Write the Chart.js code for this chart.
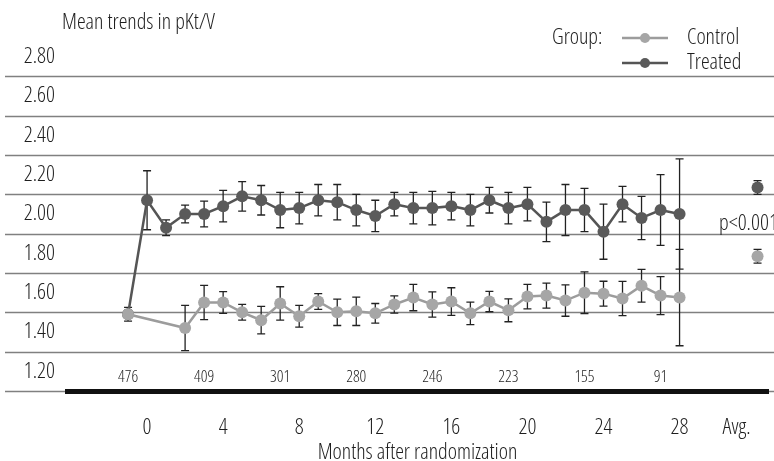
<!DOCTYPE html>
<html>
<head>
<meta charset="utf-8">
<script src="https://cdn.jsdelivr.net/npm/chart.js@4.4.1/dist/chart.umd.min.js"></script>
<style>
  html, body { margin: 0; padding: 0; background: #fff; }
</style>
</head>
<body>
<canvas id="trends" width="774" height="461"></canvas>
<script>
// months after randomization (-1 = baseline)
var months = [-1, 0, 1, 2, 3, 4, 5, 6, 7, 8, 9, 10, 11, 12, 13, 14, 15, 16, 17, 18, 19, 20, 21, 22, 23, 24, 25, 26, 27, 28];

var controlMeans = [1.49, null, null, 1.42, 1.55, 1.55, 1.50, 1.46, 1.545, 1.48, 1.555, 1.50, 1.505, 1.495, 1.54,
  1.575, 1.54, 1.555, 1.495, 1.555, 1.51, 1.58, 1.585, 1.56, 1.60, 1.595, 1.57, 1.635, 1.585, 1.575];
var controlErr = [0.035, null, null, 0.115, 0.087, 0.055, 0.04, 0.07, 0.085, 0.055, 0.04, 0.067, 0.072, 0.05, 0.044,
  0.067, 0.064, 0.07, 0.057, 0.052, 0.058, 0.062, 0.064, 0.08, 0.106, 0.063, 0.087, 0.083, 0.097, 0.245];

var treatedMeans = [1.49, 2.07, 1.93, 2.00, 2.00, 2.04, 2.09, 2.07, 2.02, 2.03, 2.07, 2.06, 2.02, 1.99, 2.05,
  2.03, 2.03, 2.04, 2.02, 2.07, 2.03, 2.05, 1.96, 2.02, 2.02, 1.91, 2.05, 1.98, 2.02, 2.00];
var treatedErr = [0.02, 0.15, 0.04, 0.045, 0.065, 0.08, 0.075, 0.075, 0.09, 0.08, 0.08, 0.09, 0.08, 0.08, 0.06,
  0.08, 0.085, 0.07, 0.08, 0.065, 0.08, 0.085, 0.10, 0.13, 0.11, 0.14, 0.09, 0.11, 0.18, 0.28];

// averages shown at the right
var avgLabel = "Avg.";
var avgMonth = 32.1;
var avgTickMonth = 31;
var controlAvg = 1.785, controlAvgErr = 0.035;
var treatedAvg = 2.135, treatedAvgErr = 0.035;
var pValueText = "p<0.001";

var tickMonths = [0, 4, 8, 12, 16, 20, 24, 28];
var yTickValues = [1.2, 1.4, 1.6, 1.8, 2.0, 2.2, 2.4, 2.6, 2.8];
var gridValues = [1.1, 1.3, 1.5, 1.7, 1.9, 2.1, 2.3, 2.5, 2.7];

// patients at risk
var countMonths = [-1, 3, 7, 11, 15, 19, 23, 27];
var counts = [476, 409, 301, 280, 246, 223, 155, 91];

var FAMILY = "'Open Sans', 'Roboto Condensed', sans-serif";
var WEIGHT = "condensed 350"; // light condensed face of the variable font
var TEXT = "#1e1e1e";
var controlPoint = "#a6a6a6", controlLine = "#9c9c9c";
var treatedPoint = "#5a5a5a", treatedLine = "#555555";

function font(size) { return WEIGHT + " " + size + "px " + FAMILY; }

function toPoints(xs, ys) {
  return xs.map(function (x, i) { return { x: x, y: ys[i] }; });
}

var extras = {
  id: "extras",
  beforeDraw: function (chart) {
    var c = chart.ctx, y = chart.scales.y;
    c.save();
    c.strokeStyle = "#808080";
    c.lineWidth = 1.5;
    gridValues.forEach(function (v) {
      var py = Math.round(y.getPixelForValue(v)) + 0.5;
      c.beginPath();
      c.moveTo(5, py);
      c.lineTo(chart.width, py);
      c.stroke();
    });
    c.restore();
  },
  beforeDatasetsDraw: function (chart) {
    var c = chart.ctx, xs = chart.scales.x, ys = chart.scales.y;
    c.save();
    c.strokeStyle = "#222";
    c.lineWidth = 1.3;
    chart.data.datasets.forEach(function (ds) {
      ds.data.forEach(function (p, i) {
        var e = ds.errors[i];
        if (p.y == null || e == null) return;
        var px = xs.getPixelForValue(p.x);
        var t = ys.getPixelForValue(p.y + e), b = ys.getPixelForValue(p.y - e);
        c.beginPath();
        c.moveTo(px, t); c.lineTo(px, b);
        c.moveTo(px - 4, t); c.lineTo(px + 4, t);
        c.moveTo(px - 4, b); c.lineTo(px + 4, b);
        c.stroke();
      });
    });
    c.restore();
  },
  afterDraw: function (chart) {
    var c = chart.ctx, xs = chart.scales.x, ys = chart.scales.y;
    c.save();
    c.fillStyle = TEXT;
    c.textBaseline = "middle";

    // axis title at the top left
    c.font = font(22);
    c.textAlign = "left";
    c.fillText("Mean trends in pKt/V", 62, 23);

    // numbers at risk
    c.font = font(16.5);
    c.textAlign = "center";
    counts.forEach(function (n, i) {
      c.fillText(String(n), xs.getPixelForValue(countMonths[i]), 377);
    });

    // p value between the averages
    c.font = font(22);
    c.textAlign = "left";
    c.fillText(pValueText, 719, ys.getPixelForValue((controlAvg + treatedAvg) / 2 - 0.008));

    // legend
    c.fillText("Group:", 552, 38);
    [["Control", controlLine, controlPoint, 38], ["Treated", treatedLine, treatedPoint, 63]].forEach(function (it) {
      c.strokeStyle = it[1];
      c.lineWidth = 2.5;
      c.beginPath();
      c.moveTo(622, it[3]); c.lineTo(668, it[3]);
      c.stroke();
      c.fillStyle = it[2];
      c.beginPath();
      c.arc(645, it[3], 5, 0, Math.PI * 2);
      c.fill();
      c.fillStyle = TEXT;
      c.fillText(it[0], 687, it[3]);
    });
    c.restore();
  }
};

var ctx = document.getElementById("trends").getContext("2d");
var chart = new Chart(ctx, {
  type: "line",
  data: {
    datasets: [
      {
        label: "Control",
        data: toPoints(months, controlMeans),
        errors: controlErr,
        borderColor: controlLine,
        backgroundColor: controlPoint,
        pointBackgroundColor: controlPoint,
        borderWidth: 2.5,
        pointRadius: 6,
        pointBorderWidth: 0,
        spanGaps: true
      },
      {
        label: "Treated",
        data: toPoints(months, treatedMeans),
        errors: treatedErr,
        borderColor: treatedLine,
        backgroundColor: treatedPoint,
        pointBackgroundColor: treatedPoint,
        borderWidth: 2.5,
        pointRadius: 6,
        pointBorderWidth: 0
      },
      {
        label: "Control avg",
        data: [{ x: avgMonth, y: controlAvg }],
        errors: [controlAvgErr],
        showLine: false,
        pointBackgroundColor: controlPoint,
        pointRadius: 6,
        pointBorderWidth: 0
      },
      {
        label: "Treated avg",
        data: [{ x: avgMonth, y: treatedAvg }],
        errors: [treatedAvgErr],
        showLine: false,
        pointBackgroundColor: treatedPoint,
        pointRadius: 6,
        pointBorderWidth: 0
      }
    ]
  },
  options: {
    responsive: false,
    animation: false,
    events: [],
    layout: { padding: { top: 37, left: 0, right: 0, bottom: 0 } },
    plugins: { legend: { display: false }, tooltip: { enabled: false } },
    scales: {
      x: {
        type: "linear",
        min: -4.21,
        max: 32.65,
        afterBuildTicks: function (s) {
          s.ticks = tickMonths.concat([avgTickMonth]).map(function (v) { return { value: v }; });
        },
        afterFit: function (s) { s.height = 70; s.paddingLeft = 0; s.paddingRight = 0; },
        grid: { display: false, drawTicks: false },
        border: { display: true, color: "#111", width: 5 },
        ticks: {
          autoSkip: false,
          maxRotation: 0,
          padding: 26,
          color: TEXT,
          font: { family: FAMILY, weight: WEIGHT, size: 22, lineHeight: 1 },
          callback: function (v) { return v === avgTickMonth ? avgLabel : String(v); }
        },
        title: {
          display: true,
          text: "Months after randomization",
          color: TEXT,
          font: { family: FAMILY, weight: WEIGHT, size: 22, lineHeight: 1 },
          padding: { top: 0, bottom: -3 }
        }
      },
      y: {
        min: 1.1,
        max: 2.9,
        afterBuildTicks: function (s) {
          s.ticks = yTickValues.map(function (v) { return { value: v }; });
        },
        afterFit: function (s) { s.width = 67; s.paddingTop = 0; s.paddingBottom = 0; },
        grid: { display: false, drawTicks: false },
        border: { display: false },
        ticks: {
          autoSkip: false,
          padding: 12,
          color: TEXT,
          font: { family: FAMILY, weight: WEIGHT, size: 22 },
          callback: function (v) { return v.toFixed(2); }
        }
      }
    }
  },
  plugins: [extras]
});
</script>
</body>
</html>
